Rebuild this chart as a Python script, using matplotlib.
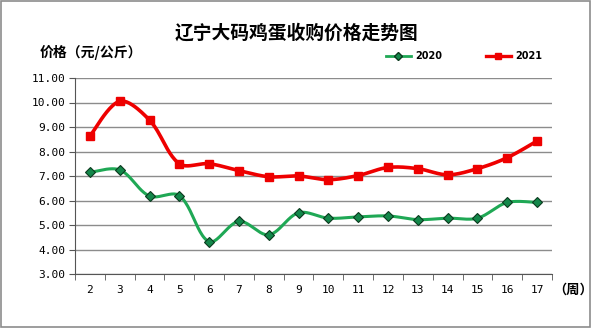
import numpy as np
import matplotlib
matplotlib.use("Agg")
import matplotlib.pyplot as plt
from matplotlib.patches import Rectangle

plt.rcParams['font.family'] = ['Noto Sans CJK SC', 'DejaVu Sans']

weeks = ["2", "3", "4", "5", "6", "7", "8", "9", "10", "11", "12", "13", "14", "15", "16", "17"]
price_2020 = [7.15, 7.25, 6.18, 6.20, 4.32, 5.15, 4.60, 5.50, 5.28, 5.33, 5.37, 5.22, 5.28, 5.28, 5.92, 5.92]
price_2021 = [8.63, 10.05, 9.28, 7.50, 7.50, 7.22, 6.97, 7.00, 6.85, 7.02, 7.35, 7.30, 7.05, 7.30, 7.75, 8.43]
yticks = [3, 4, 5, 6, 7, 8, 9, 10, 11]

XS, YS = 29.8, 24.5  # approx pixel scale per unit, for smoothing shape


def smooth(x, y, n=24):
    P = np.column_stack([np.asarray(x, float) * XS, np.asarray(y, float) * YS])
    out = []
    m = len(P)
    for i in range(m - 1):
        p0 = P[i - 1] if i > 0 else P[i]
        p1 = P[i]; p2 = P[i + 1]
        p3 = P[i + 2] if i + 2 < m else P[i + 1]
        d01 = np.linalg.norm(p1 - p0); d12 = np.linalg.norm(p2 - p1); d23 = np.linalg.norm(p3 - p2)
        s1 = d12 / (d01 + d12) / 3 if d01 > 0 else 1 / 6
        s2 = d12 / (d12 + d23) / 3 if d23 > 0 else 1 / 6
        c1 = p1 + (p2 - p0) * s1
        c2 = p2 - (p3 - p1) * s2
        t = np.linspace(0, 1, n, endpoint=(i == m - 2))[:, None]
        b = (1-t)**3*p1 + 3*(1-t)**2*t*c1 + 3*(1-t)*t**2*c2 + t**3*p2
        out.append(b)
    B = np.vstack(out)
    return B[:, 0] / XS, B[:, 1] / YS


fig = plt.figure(figsize=(5.92, 3.28), dpi=100)
fig.patches.append(Rectangle((0.002, 0.003), 0.995, 0.993, transform=fig.transFigure,
                             fill=False, edgecolor='#8c8c8c', linewidth=1.2))
ax = fig.add_axes([0.1267, 0.1646, 0.8057, 0.5976])

x = np.arange(len(weeks))
g_col = '#1fa855'
r_col = '#ee0000'
sx, sy = smooth(x, price_2020)
ax.plot(sx, sy, color=g_col, lw=2.2, zorder=3)
ax.plot(x, price_2020, ls='none', marker='D', ms=5.5, mfc='#13874a', mec='#0b3a1e', mew=0.8, zorder=4)
sx, sy = smooth(x, price_2021)
ax.plot(sx, sy, color=r_col, lw=2.6, zorder=3)
ax.plot(x, price_2021, ls='none', marker='s', ms=5.5, mfc=r_col, mec=r_col, zorder=4)

# legend proxies
ax.plot([], [], color=g_col, lw=2.0, marker='D', ms=4.5, mfc='#13874a', mec='#0b3a1e', label='2020')
ax.plot([], [], color=r_col, lw=2.4, marker='s', ms=4.5, mfc=r_col, mec=r_col, label='2021')
h, l = ax.get_legend_handles_labels()
ax.legend(h[-2:], l[-2:], ncol=2, frameon=False, loc='lower right', bbox_to_anchor=(0.995, 1.046),
          prop={'weight': 'bold', 'size': 7, 'family': 'DejaVu Sans'}, handlelength=2.6,
          columnspacing=4.5, handletextpad=0.4, borderaxespad=0.4)

ax.set_xlim(-0.5, len(weeks) - 0.5)
ax.set_ylim(3, 11)
ax.set_yticks(yticks)
ax.set_yticklabels([f"{v:.2f}" for v in yticks], fontsize=8, family='DejaVu Sans Mono')
ax.set_xticks(x)
ax.set_xticklabels(weeks, fontsize=8, family='DejaVu Sans Mono')
ax.set_xticks(np.arange(-0.5, len(weeks)), minor=True)
ax.tick_params(axis='x', which='major', length=0, pad=8)
ax.tick_params(axis='x', which='minor', length=4, color='#555555')
ax.tick_params(axis='y', length=4, color='#555555', pad=3)
ax.grid(axis='y', color='#8c8c8c', lw=1)
ax.set_axisbelow(True)
for s in ['top', 'right']:
    ax.spines[s].set_visible(False)
for s in ['left', 'bottom']:
    ax.spines[s].set_color('#555555')

fig.text(0.5, 0.9, '辽宁大码鸡蛋收购价格走势图', ha='center', va='center', fontsize=13.5, weight='bold')
fig.text(0.067, 0.84, '价格（元/公斤）', ha='left', va='center', fontsize=10, weight='bold')
fig.text(0.935, 0.118, '（周）', ha='left', va='center', fontsize=9.5, weight='bold')

fig.savefig('out.png', dpi=100)
